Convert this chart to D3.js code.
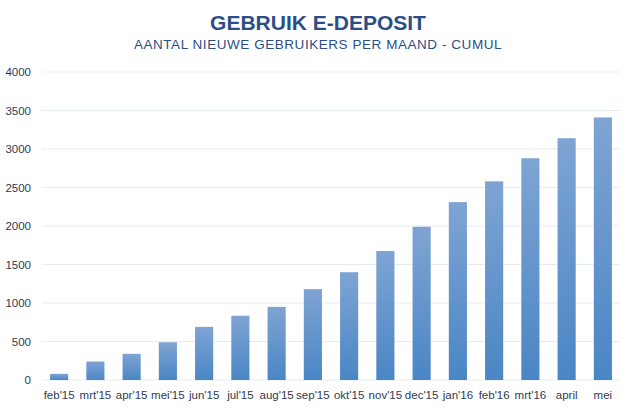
<!DOCTYPE html>
<html>
<head>
<meta charset="utf-8">
<script src="https://cdn.jsdelivr.net/npm/d3@7"></script>
<style>
  body { margin: 0; background: #fff; }
  svg { font-family: "Liberation Sans", Arial, sans-serif; }
</style>
</head>
<body>
<div id="chart"></div>
<script>
const months = ["feb'15", "mrt'15", "apr'15", "mei'15", "jun'15", "jul'15", "aug'15", "sep'15",
    "okt'15", "nov'15", "dec'15", "jan'16", "feb'16", "mrt'16", "april", "mei"];
const users = [80, 240, 340, 490, 690, 835, 950, 1180, 1400, 1675, 1990, 2310, 2580, 2880, 3140, 3410];
const yTicks = [0, 500, 1000, 1500, 2000, 2500, 3000, 3500, 4000];

const width = 635, height = 408;
const margin = {top: 72, right: 14, bottom: 28, left: 41};

const svg = d3.select('#chart')
    .append('svg')
    .attr('width', width)
    .attr('height', height);

// Gradient for bars
const grad = svg.append('defs').append('linearGradient')
    .attr('id', 'barGrad')
    .attr('x1', 0).attr('y1', 0).attr('x2', 0).attr('y2', 1);
grad.append('stop').attr('offset', '0%').attr('stop-color', '#7fa4d3');
grad.append('stop').attr('offset', '100%').attr('stop-color', '#4a86c5');

const x = d3.scaleBand()
    .domain(months)
    .range([margin.left, width - margin.right])
    .paddingInner(0.5)
    .paddingOuter(0.25);

const y = d3.scaleLinear()
    .domain([0, 4000])
    .range([height - margin.bottom, margin.top]);

// Titles
svg.append('text')
    .attr('x', 318)
    .attr('y', 29.5)
    .attr('text-anchor', 'middle')
    .attr('font-size', '21px')
    .attr('font-weight', 'bold')
    .attr('fill', '#2b4f85')
    .text('GEBRUIK E-DEPOSIT');

svg.append('text')
    .attr('x', 318)
    .attr('y', 49)
    .attr('text-anchor', 'middle')
    .attr('font-size', '13.5px')
    .attr('letter-spacing', '0.55px')
    .attr('fill', '#2b4f85')
    .text('AANTAL NIEUWE GEBRUIKERS PER MAAND - CUMUL');

// Grid lines
svg.append('g')
    .selectAll('line')
    .data(yTicks)
    .enter()
    .append('line')
    .attr('x1', margin.left + 1)
    .attr('x2', width - margin.right - 1)
    .attr('y1', d => y(d))
    .attr('y2', d => y(d))
    .attr('stroke', '#e6ebf3')
    .attr('stroke-width', 1);

// Y axis
svg.append('g')
    .attr('transform', `translate(${margin.left - 10},0)`)
    .call(d3.axisLeft(y).tickValues(yTicks).tickFormat(d3.format('d')).tickSize(0).tickPadding(0))
    .call(g => g.select('.domain').remove())
    .call(g => g.selectAll('text')
        .attr('font-size', '11.5px')
        .attr('font-family', '"Liberation Sans", Arial, sans-serif')
        .attr('fill', '#2e3a55'));

// Bars
svg.append('g')
    .selectAll('rect')
    .data(months)
    .enter()
    .append('rect')
    .attr('x', d => x(d))
    .attr('y', (d, i) => y(users[i]))
    .attr('width', x.bandwidth())
    .attr('height', (d, i) => y(0) - y(users[i]))
    .attr('fill', 'url(#barGrad)');

// X axis
svg.append('g')
    .attr('transform', `translate(0,${height - margin.bottom})`)
    .call(d3.axisBottom(x).tickSize(0).tickPadding(11))
    .call(g => g.select('.domain').remove())
    .call(g => g.selectAll('text')
        .attr('font-size', '11.5px')
        .attr('font-family', '"Liberation Sans", Arial, sans-serif')
        .attr('fill', '#2e3a55'));
</script>
</body>
</html>
